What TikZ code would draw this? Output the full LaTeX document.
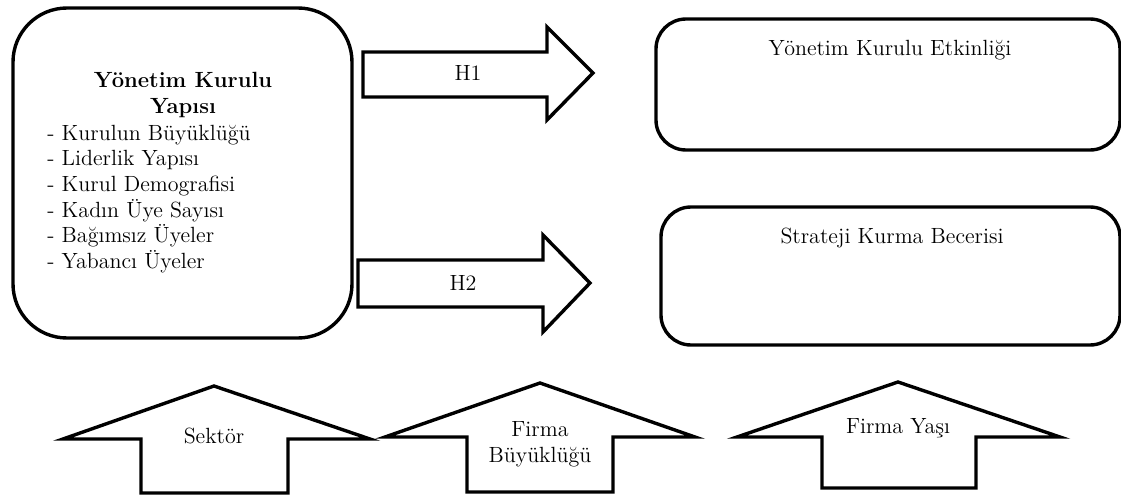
\documentclass[tikz,border=0pt]{standalone}
\begin{document}
\begin{tikzpicture}[x=0.5pt,y=-0.5pt,line join=miter]
  \tikzstyle{box}=[draw, line width=1.7pt, rounded corners=15pt, inner sep=0pt]
  \tikzstyle{blk}=[draw, line width=1.7pt, fill=white]
  \tikzstyle{lbl}=[font=\fontsize{11}{13}\selectfont, align=center, inner sep=1pt]

  \useasboundingbox (0,0) rectangle (1121,498);

  % boxes
  \node[box, rounded corners=27pt, minimum width=169.5pt, minimum height=165pt] (yapi) at (182.5,173) {};
  \node[box, minimum width=232pt, minimum height=65.5pt] (etkinlik) at (888,84.5) {};
  \node[box, minimum width=229.5pt, minimum height=69pt] (strateji) at (890.5,276) {};

  \node[lbl, font=\fontsize{11}{13}\selectfont\bfseries] (yapiBaslik) at (183,95) {Yönetim Kurulu\\Yapısı};
  \node[lbl, align=left, anchor=west, font=\fontsize{11}{12.8}\selectfont] (yapiListe) at (45,199)
    {- Kurulun Büyüklüğü\\- Liderlik Yapısı\\- Kurul Demografisi\\- Kadın Üye Sayısı\\- Bağımsız Üyeler\\- Yabancı Üyeler};
  \node[lbl] (etkinlikText) at (890,50) {Yönetim Kurulu Etkinliği};
  \node[lbl] (stratejiText) at (892,238) {Strateji Kurma Becerisi};

  % hypothesis arrows
  \draw[blk] (363,52) -- (547,52) -- (547,27) -- (593,73) -- (547,120) -- (547,97) -- (363,97) -- cycle;
  \draw[blk] (358,260) -- (543,260) -- (543,235) -- (590,283) -- (543,332) -- (543,307) -- (358,307) -- cycle;
  \node[lbl] (h1) at (468,73) {H1};
  \node[lbl] (h2) at (463,283) {H2};

  % control variables
  \draw[blk] (63,439) -- (214,386) -- (370,439) -- (288,439) -- (288,493) -- (141,493) -- (141,439) -- cycle;
  \draw[blk] (385,437) -- (540,383) -- (695,437) -- (613,437) -- (613,492) -- (467,492) -- (467,437) -- cycle;
  \draw[blk] (737,437) -- (898,382) -- (1060,437) -- (976,437) -- (976,488) -- (822,488) -- (822,437) -- cycle;
  \node[lbl] (sektor) at (214,436) {Sektör};
  \node[lbl] (buyukluk) at (540,444) {Firma\\Büyüklüğü};
  \node[lbl] (yas) at (898,428) {Firma Yaşı};
\end{tikzpicture}
\end{document}
